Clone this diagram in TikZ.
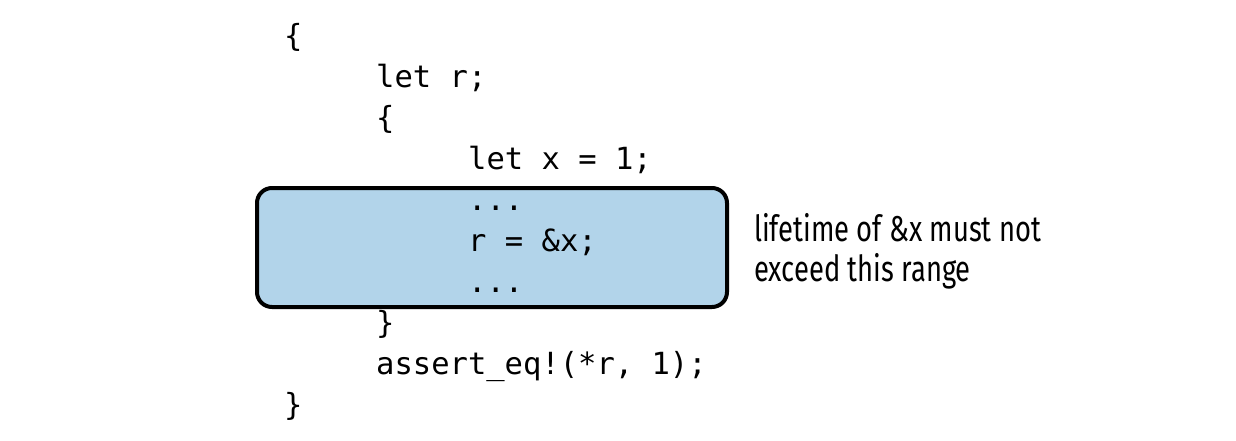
\documentclass[tikz,border=0pt]{standalone}
\usepackage{fontspec}
\setmonofont{DejaVu Sans Mono}
\newfontfamily\labelfont[FakeStretch=0.76]{Fira Sans}
\definecolor{rangeblue}{RGB}{178,212,234}
\begin{document}
\begin{tikzpicture}[x=1pt,y=-1pt,
  code/.style={anchor=base west,inner sep=0pt,font=\ttfamily\fontsize{30.5}{36}\selectfont},
  rangebox/.style={draw=black,line width=4pt,fill=rangeblue,rounded corners=15pt,minimum width=470pt,minimum height=119pt,inner sep=0pt},
  note/.style={anchor=north west,inner sep=0pt,align=left,font=\labelfont\fontsize{36}{40}\selectfont}]
\useasboundingbox (0,0) rectangle (1236,440);
\node[rangebox] (box) at (492,247.5) {};
\def\ca{284}\def\cb{376}\def\cc{468}
\node[code] (l0) at (\ca,46) {\{};
\node[code] (l1) at (\cb,87) {let r;};
\node[code] (l2) at (\cb,128) {\{};
\node[code] (l3) at (\cc,169) {let x = 1;};
\node[code] (l4) at (\cc,210) {...};
\node[code] (l5) at (\cc,251) {r = \&x;};
\node[code] (l6) at (\cc,292) {...};
\node[code] (l7) at (\cb,333) {\}};
\node[code] (l8) at (\cb,374) {assert\_eq!(*r, 1);};
\node[code] (l9) at (\ca,415) {\}};
\node[note] (lbl) at (754,213.5) {lifetime of \&x must not\\exceed this range};
\end{tikzpicture}
\end{document}
